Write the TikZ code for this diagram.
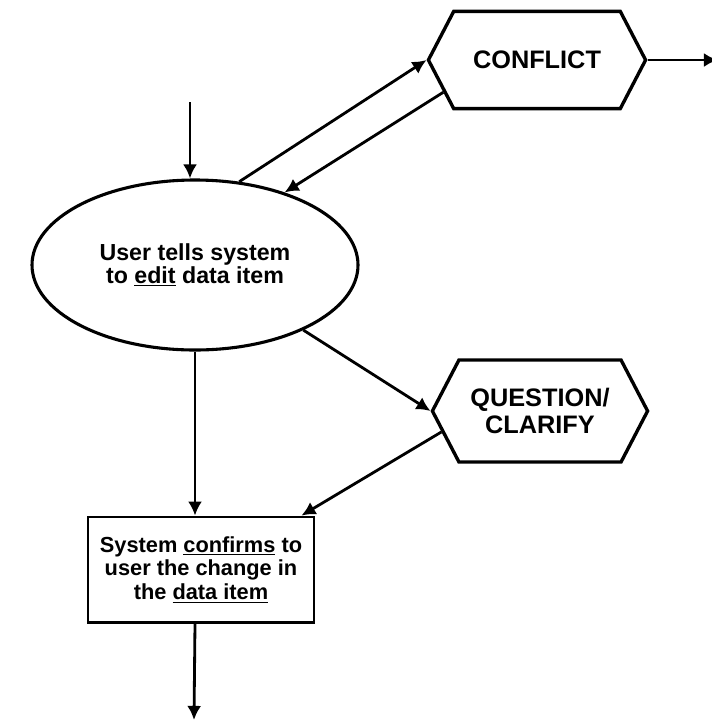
\documentclass[tikz,border=0pt]{standalone}
\usepackage{fontspec}
\setmainfont{Liberation Sans}
\usetikzlibrary{shapes.geometric, shapes.symbols, arrows.meta}

\begin{document}
\begin{tikzpicture}[
    flow/.style = {line width=2pt, -{Latex[length=10pt,width=10pt]}},
    hexbox/.style = {signal, signal to=west and east, signal pointer angle=125,
      draw, line width=2.4pt, inner sep=0pt, align=center,
      font=\fontsize{18}{19}\selectfont\bfseries},
    userbox/.style = {ellipse, draw, line width=2.2pt, inner sep=0pt, align=center,
      font=\fontsize{16.5}{16.5}\selectfont\bfseries},
    sysbox/.style = {rectangle, draw, line width=2pt, inner sep=0pt, align=center,
      font=\fontsize{15.5}{17}\selectfont\bfseries}
  ]
  \useasboundingbox (0,0) rectangle (17.8,-18);

  \node[userbox, minimum width=8.15cm, minimum height=4.25cm] (edit) at (4.875,-6.625)
    {User tells system\\to \underline{edit} data item};
  \node[hexbox, minimum width=5.43cm, minimum height=2.43cm] (conflict) at (13.425,-1.5)
    {CONFLICT};
  \node[hexbox, minimum width=5.38cm, minimum height=2.55cm] (clarify) at (13.5,-10.275)
    {QUESTION/\\CLARIFY};
  \node[sysbox, minimum width=5.65cm, minimum height=2.63cm] (confirm) at (5.025,-14.24)
    {System \underline{confirms} to\\user the change in\\the \underline{data item}};

  \coordinate (start) at (4.75,-2.55);
  \coordinate (exit) at (17.95,-1.5);
  \coordinate (next) at (4.85,-18);

  \draw[flow] (start) -- (start |- edit.north);
  \draw[flow] (edit.62) -- (conflict.west);
  \draw[flow] (conflict.199) -- (edit.39);
  \draw[flow] (conflict.east) -- (conflict.east -| exit);
  \draw[flow] (edit.-31) -- (clarify.west);
  \draw[flow] (clarify.192) -- ([xshift=-0.35cm]confirm.north east);
  \draw[flow] (edit.south) -- (edit.south |- confirm.north);
  \draw[flow] (confirm.south -| edit.south) -- (next);
\end{tikzpicture}
\end{document}
